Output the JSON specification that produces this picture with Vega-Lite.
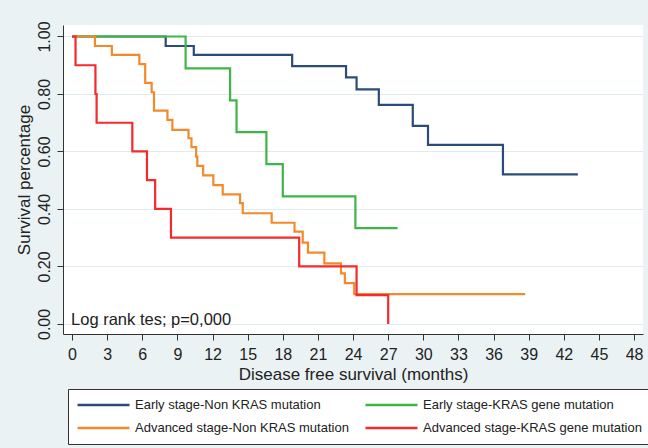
{
  "$schema": "https://vega.github.io/schema/vega-lite/v6.json",
  "width": 580,
  "height": 309,
  "autosize": {"type": "none"},
  "padding": {"left": 63, "top": 25, "right": 5, "bottom": 114},
  "background": "#eaf2f4",
  "config": {
    "view": {"fill": "white", "stroke": null},
    "font": "Liberation Sans",
    "axis": {
      "domainColor": "#333333",
      "tickColor": "#333333",
      "labelColor": "#222222",
      "titleColor": "#222222",
      "titleFontWeight": "normal",
      "tickSize": 6,
      "labelFontSize": 16,
      "titleFontSize": 17,
      "labelFlush": false,
      "labelOverlap": false
    },
    "legend": {
      "labelFont": "Liberation Sans",
      "labelFontSize": 13,
      "labelColor": "#222222"
    }
  },
  "datasets": {
    "km": [
      {"group": "Early stage-Non KRAS mutation", "months": 0, "survival": 1.0},
      {"group": "Early stage-Non KRAS mutation", "months": 8.0, "survival": 0.967},
      {"group": "Early stage-Non KRAS mutation", "months": 10.4, "survival": 0.936},
      {"group": "Early stage-Non KRAS mutation", "months": 18.8, "survival": 0.897},
      {"group": "Early stage-Non KRAS mutation", "months": 23.4, "survival": 0.858},
      {"group": "Early stage-Non KRAS mutation", "months": 24.3, "survival": 0.816},
      {"group": "Early stage-Non KRAS mutation", "months": 26.2, "survival": 0.762},
      {"group": "Early stage-Non KRAS mutation", "months": 29.1, "survival": 0.689},
      {"group": "Early stage-Non KRAS mutation", "months": 30.4, "survival": 0.623},
      {"group": "Early stage-Non KRAS mutation", "months": 36.8, "survival": 0.52},
      {"group": "Early stage-Non KRAS mutation", "months": 43.2, "survival": 0.52},
      {"group": "Early stage-KRAS gene mutation", "months": 0, "survival": 1.0},
      {"group": "Early stage-KRAS gene mutation", "months": 9.7, "survival": 0.889},
      {"group": "Early stage-KRAS gene mutation", "months": 13.5, "survival": 0.778},
      {"group": "Early stage-KRAS gene mutation", "months": 14.05, "survival": 0.667},
      {"group": "Early stage-KRAS gene mutation", "months": 16.6, "survival": 0.556},
      {"group": "Early stage-KRAS gene mutation", "months": 18.0, "survival": 0.444},
      {"group": "Early stage-KRAS gene mutation", "months": 24.2, "survival": 0.333},
      {"group": "Early stage-KRAS gene mutation", "months": 27.8, "survival": 0.333},
      {"group": "Advanced stage-Non KRAS mutation", "months": 0, "survival": 1.0},
      {"group": "Advanced stage-Non KRAS mutation", "months": 1.96, "survival": 0.967},
      {"group": "Advanced stage-Non KRAS mutation", "months": 3.4, "survival": 0.936},
      {"group": "Advanced stage-Non KRAS mutation", "months": 5.75, "survival": 0.904},
      {"group": "Advanced stage-Non KRAS mutation", "months": 6.25, "survival": 0.839},
      {"group": "Advanced stage-Non KRAS mutation", "months": 6.8, "survival": 0.806},
      {"group": "Advanced stage-Non KRAS mutation", "months": 7.0, "survival": 0.742},
      {"group": "Advanced stage-Non KRAS mutation", "months": 8.15, "survival": 0.71},
      {"group": "Advanced stage-Non KRAS mutation", "months": 8.57, "survival": 0.675},
      {"group": "Advanced stage-Non KRAS mutation", "months": 9.95, "survival": 0.646},
      {"group": "Advanced stage-Non KRAS mutation", "months": 10.2, "survival": 0.615},
      {"group": "Advanced stage-Non KRAS mutation", "months": 10.6, "survival": 0.582},
      {"group": "Advanced stage-Non KRAS mutation", "months": 10.7, "survival": 0.55},
      {"group": "Advanced stage-Non KRAS mutation", "months": 11.2, "survival": 0.517},
      {"group": "Advanced stage-Non KRAS mutation", "months": 12.07, "survival": 0.483},
      {"group": "Advanced stage-Non KRAS mutation", "months": 12.87, "survival": 0.451},
      {"group": "Advanced stage-Non KRAS mutation", "months": 14.35, "survival": 0.42},
      {"group": "Advanced stage-Non KRAS mutation", "months": 14.58, "survival": 0.385},
      {"group": "Advanced stage-Non KRAS mutation", "months": 17.05, "survival": 0.352},
      {"group": "Advanced stage-Non KRAS mutation", "months": 19.0, "survival": 0.321},
      {"group": "Advanced stage-Non KRAS mutation", "months": 19.7, "survival": 0.283},
      {"group": "Advanced stage-Non KRAS mutation", "months": 20.15, "survival": 0.248},
      {"group": "Advanced stage-Non KRAS mutation", "months": 21.55, "survival": 0.211},
      {"group": "Advanced stage-Non KRAS mutation", "months": 22.97, "survival": 0.176},
      {"group": "Advanced stage-Non KRAS mutation", "months": 23.3, "survival": 0.142},
      {"group": "Advanced stage-Non KRAS mutation", "months": 24.1, "survival": 0.104},
      {"group": "Advanced stage-Non KRAS mutation", "months": 38.7, "survival": 0.104},
      {"group": "Advanced stage-KRAS gene mutation", "months": 0, "survival": 1.0},
      {"group": "Advanced stage-KRAS gene mutation", "months": 0.3, "survival": 0.9},
      {"group": "Advanced stage-KRAS gene mutation", "months": 2.0, "survival": 0.8},
      {"group": "Advanced stage-KRAS gene mutation", "months": 2.1, "survival": 0.7},
      {"group": "Advanced stage-KRAS gene mutation", "months": 5.15, "survival": 0.6},
      {"group": "Advanced stage-KRAS gene mutation", "months": 6.4, "survival": 0.5},
      {"group": "Advanced stage-KRAS gene mutation", "months": 7.1, "survival": 0.4},
      {"group": "Advanced stage-KRAS gene mutation", "months": 8.45, "survival": 0.3},
      {"group": "Advanced stage-KRAS gene mutation", "months": 19.4, "survival": 0.2},
      {"group": "Advanced stage-KRAS gene mutation", "months": 24.3, "survival": 0.1},
      {"group": "Advanced stage-KRAS gene mutation", "months": 27.0, "survival": 0.0}
    ],
    "note": [
      {"months": -0.08, "survival": 0.014, "label": "Log rank tes; p=0,000"}
    ]
  },
  "encoding": {
    "x": {
      "field": "months",
      "type": "quantitative",
      "scale": {"domain": [-0.77, 48.76], "nice": false, "zero": false},
      "axis": {
        "values": [0, 3, 6, 9, 12, 15, 18, 21, 24, 27, 30, 33, 36, 39, 42, 45, 48],
        "title": "Disease free survival (months)",
        "grid": false,
        "labelOverlap": false,
        "labelPadding": 6,
        "titlePadding": 4
      }
    },
    "y": {
      "field": "survival",
      "type": "quantitative",
      "scale": {"domain": [-0.035, 1.04], "nice": false, "zero": false},
      "axis": {
        "values": [0, 0.2, 0.4, 0.6, 0.8, 1.0],
        "format": ".2f",
        "title": "Survival percentage",
        "grid": true,
        "gridColor": "#e0ebef",
        "gridWidth": 1.2,
        "labelOverlap": false,
        "labelAngle": -90,
        "labelAlign": "center",
        "labelBaseline": "bottom",
        "labelPadding": 5,
        "titlePadding": 3
      }
    }
  },
  "layer": [
    {
      "data": {"name": "km"},
      "mark": {"type": "line", "interpolate": "step-after", "strokeWidth": 2.2},
      "encoding": {
        "color": {
          "field": "group",
          "type": "nominal",
          "scale": {
            "domain": ["Early stage-Non KRAS mutation", "Early stage-KRAS gene mutation", "Advanced stage-Non KRAS mutation", "Advanced stage-KRAS gene mutation"],
            "range": ["#2b4c7b", "#3fb548", "#f28a2c", "#f52a2c"]
          },
          "legend": {
            "title": null,
            "orient": "none",
            "legendX": 5,
            "legendY": 364,
            "direction": "horizontal",
            "columns": 2,
            "symbolType": "stroke",
            "symbolSize": 2704,
            "symbolStrokeWidth": 2.5,
            "clipHeight": 16,
            "rowPadding": 7,
            "columnPadding": 15,
            "labelOffset": 4,
            "padding": 8,
            "strokeColor": "#333333",
            "fillColor": "white",
            "labelLimit": 300
          }
        }
      }
    },
    {
      "data": {"name": "note"},
      "mark": {"type": "text", "align": "left", "baseline": "middle", "fontSize": 16.5, "color": "#222222", "font": "Liberation Sans"},
      "encoding": {
        "text": {"field": "label"}
      }
    }
  ]
}
